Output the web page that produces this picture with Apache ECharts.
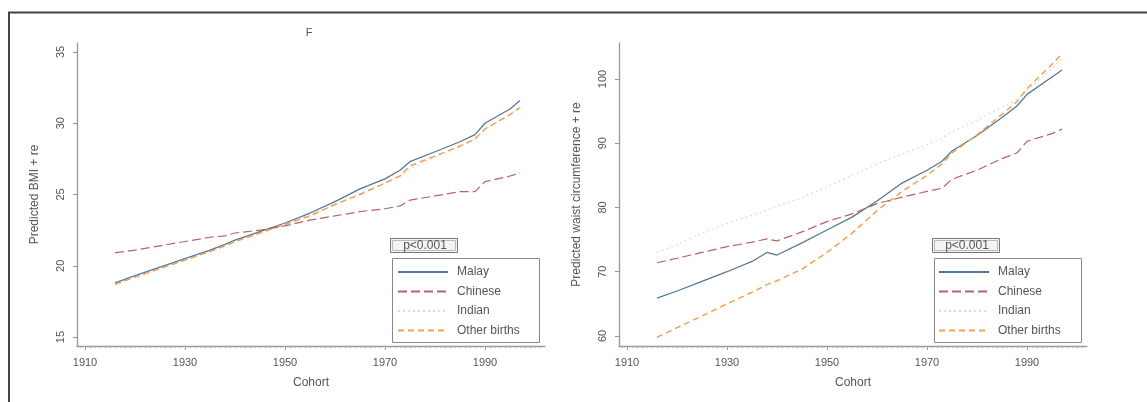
<!DOCTYPE html>
<html>
<head>
<meta charset="utf-8">
<script src="https://cdn.jsdelivr.net/npm/echarts@6/dist/echarts.min.js"></script>
<style>
html,body{margin:0;padding:0;background:#fff;}
#c{width:1147px;height:402px;}
</style>
</head>
<body>
<div id="c"></div>
<script>
const years = [1916,1920,1925,1930,1935,1938,1940,1945,1950,1955,1960,1965,1970,1973,1975,1980,1985,1988,1990,1995,1997];
const seriesNames = ['Malay','Chinese','Indian','Other births'];
// Left panel: Predicted BMI + re
const bmiMalay   = [18.8,19.3,19.9,20.5,21.1,21.5,21.8,22.4,23.0,23.7,24.5,25.4,26.1,26.7,27.3,28.0,28.7,29.2,30.0,31.0,31.6];
const bmiChinese = [20.9,21.1,21.4,21.7,22.0,22.1,22.3,22.5,22.8,23.2,23.5,23.8,24.0,24.2,24.6,24.9,25.2,25.2,25.9,26.3,26.5];
const bmiIndian  = [18.7,19.2,19.8,20.4,21.0,21.4,21.7,22.3,22.9,23.6,24.3,25.1,25.8,26.3,26.8,27.6,28.4,28.9,29.6,30.6,31.2];
const bmiOther   = [18.7,19.2,19.8,20.4,21.0,21.4,21.7,22.3,22.9,23.5,24.3,25.0,25.8,26.3,27.0,27.7,28.4,28.9,29.6,30.6,31.1];
// Right panel: Predicted waist circumference + re
const wcMalay   = [65.9,67.0,68.5,70.0,71.6,73.0,72.6,74.5,76.5,78.5,81.0,83.8,85.8,87.2,88.8,91.2,94.0,95.8,97.6,100.3,101.4];
const wcChinese = [71.4,72.1,73.0,73.9,74.6,75.1,74.8,76.2,77.8,79.0,80.6,81.6,82.5,83.0,84.4,85.8,87.6,88.5,90.3,91.5,92.2];
const wcIndian  = [73.0,74.2,76.0,77.5,78.8,79.6,80.2,81.5,83.2,85.0,86.8,88.3,89.8,90.8,91.8,93.6,95.6,96.8,98.2,101.6,103.2];
const wcOther   = [59.8,61.3,63.1,65.0,66.8,68.0,68.6,70.4,73.0,76.0,79.5,82.5,85.0,86.8,88.5,91.3,94.5,96.5,98.5,102.3,103.9];
const xTicks = [1910,1930,1950,1970,1990];
const bmiTicks = [15,20,25,30,35];
const wcTicks = [60,70,80,90,100];
const minorYears = [];
for (let y = 1909; y <= 2001; y++) minorYears.push(y);

const FONT = 'Liberation Sans, Arial, sans-serif';
const TXT = '#555';
const styles = [
  {color:'#56779a', type:'solid', width:1.3},
  {color:'#b5636a', type:[9,4], width:1.2},
  {color:'#e6d6d6', type:[2,3], width:1.2},
  {color:'#f2a04e', type:[6,4], width:1.5}
];
function pairs(vals){ return years.map((y,i)=>[y, vals[i]]); }

const grids = [
  {left:77, top:43, width:468, height:303},
  {left:619, top:43, width:468, height:303}
];
const xBase = {
  type:'value', min:1908.4, max:2002, position:'bottom',
  axisLine:{show:true, lineStyle:{color:'#999', width:1.3}},
  axisTick:{show:true, customValues:xTicks, length:4, lineStyle:{color:'#999'}},
  axisLabel:{customValues:xTicks, color:TXT, fontSize:11, fontFamily:FONT, margin:11, formatter:v=>String(v)},
  splitLine:{show:false},
  name:'Cohort', nameLocation:'middle', nameGap:31,
  nameTextStyle:{color:TXT, fontSize:12, fontFamily:FONT}
};
const xMinor = {
  type:'value', min:1908.4, max:2002, position:'bottom',
  axisLine:{show:false},
  axisTick:{show:true, customValues:minorYears, length:2, lineStyle:{color:'#aaa'}},
  axisLabel:{show:false}, splitLine:{show:false}
};
function yAxis(grid, min, max, ticks, name){
  return {
    type:'value', gridIndex:grid, min:min, max:max,
    axisLine:{show:true, lineStyle:{color:'#999', width:1.3}},
    axisTick:{show:true, customValues:ticks, length:4, lineStyle:{color:'#999'}},
    axisLabel:{customValues:ticks, color:TXT, fontSize:11, fontFamily:FONT, rotate:90, margin:11, formatter:v=>String(v)},
    splitLine:{show:false},
    name:name, nameLocation:'middle', nameGap:36, nameRotate:90,
    nameTextStyle:{color:TXT, fontSize:12, fontFamily:FONT}
  };
}

const leftData = [bmiMalay,bmiChinese,bmiIndian,bmiOther];
const rightData = [wcMalay,wcChinese,wcIndian,wcOther];
const series = [];
[leftData,rightData].forEach((set,g)=>{
  set.forEach((vals,i)=>{
    series.push({
      type:'line', name:seriesNames[i], xAxisIndex:g*2, yAxisIndex:g,
      data:pairs(vals), symbol:'none', silent:true, animation:false,
      lineStyle:styles[i], itemStyle:{color:styles[i].color}, z:[2,3,1,2][i]
    });
  });
});

function legendFor(left){
  return {
    orient:'vertical', left:left, top:258, padding:[8,0,0,0],
    itemWidth:50, itemHeight:10, itemGap:7.5,
    data:seriesNames, selectedMode:false,
    itemStyle:{opacity:0},
    textStyle:{color:TXT, fontSize:12, fontFamily:FONT, padding:[0,0,0,4]}
  };
}
function boxes(px, lx){
  return [
    {type:'rect', shape:{x:px+0.5, y:238.5, width:67, height:14}, style:{fill:'#f4f4f4', stroke:'#777', lineWidth:1}},
    {type:'rect', shape:{x:px+2.5, y:240.5, width:63, height:10}, style:{fill:'none', stroke:'#bbb', lineWidth:1}},
    {type:'text', x:px+35, y:245.5, style:{text:'p<0.001', fill:TXT, font:'12px '+FONT, textAlign:'center', textVerticalAlign:'middle'}},
    {type:'rect', shape:{x:lx+0.5, y:258.5, width:147, height:84}, style:{fill:'none', stroke:'#888', lineWidth:1}}
  ];
}

const chart = echarts.init(document.getElementById('c'), null, {renderer:'canvas'});
chart.setOption({
  animation:false,
  backgroundColor:'#fff',
  grid:grids,
  xAxis:[
    Object.assign({gridIndex:0}, xBase),
    Object.assign({gridIndex:0}, xMinor),
    Object.assign({gridIndex:1}, xBase),
    Object.assign({gridIndex:1}, xMinor)
  ],
  yAxis:[
    yAxis(0, 14.37, 35.63, bmiTicks, 'Predicted BMI + re'),
    yAxis(1, 58.44, 105.6, wcTicks, 'Predicted waist circumference + re')
  ],
  legend:[legendFor(397), legendFor(938)],
  series:series,
  graphic:[
    {type:'rect', shape:{x:9, y:12.5, width:1300, height:600}, style:{fill:'none', stroke:'#444', lineWidth:2}, silent:true},
    {type:'text', x:309, y:33, style:{text:'F', fill:TXT, font:'11px '+FONT, textAlign:'center', textVerticalAlign:'middle'}}
  ].concat(boxes(390, 392), boxes(932, 934))
});
</script>
</body>
</html>
